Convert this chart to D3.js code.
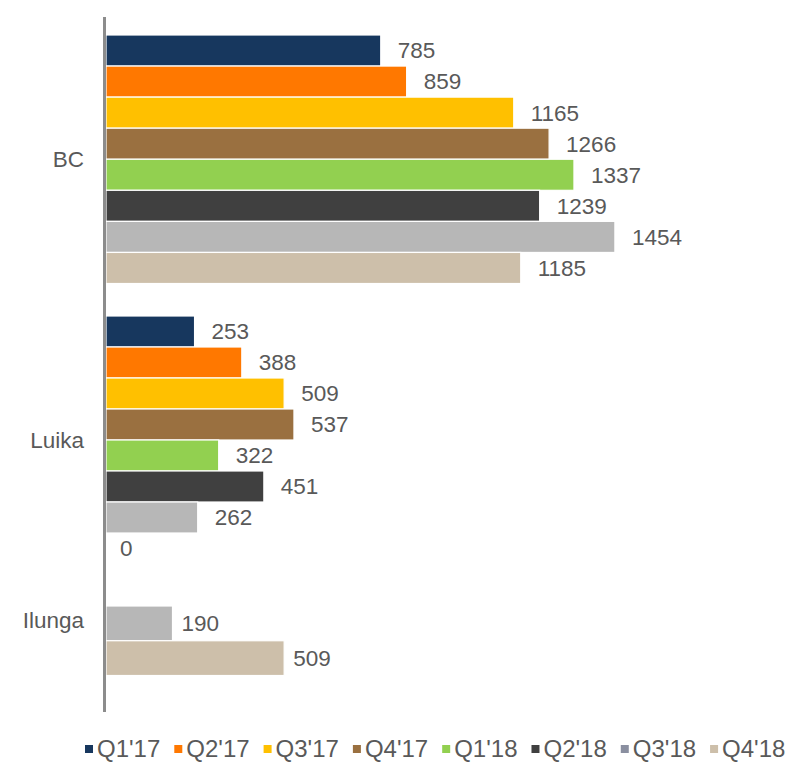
<!DOCTYPE html>
<html>
<head>
<meta charset="utf-8">
<script src="https://cdn.jsdelivr.net/npm/d3@7"></script>
<style>
  html, body { margin: 0; padding: 0; background: #fff; }
  svg { display: block; font-family: "Liberation Sans", Arial, sans-serif; }
</style>
</head>
<body>
<svg id="chart" width="787" height="762"></svg>
<script>
// ---- data ----
const categories = ["BC", "Luika", "Ilunga"];
const seriesNames = ["Q1'17", "Q2'17", "Q3'17", "Q4'17", "Q1'18", "Q2'18", "Q3'18", "Q4'18"];
const bcValues     = [785, 859, 1165, 1266, 1337, 1239, 1454, 1185];
const luikaValues  = [253, 388, 509, 537, 322, 451, 262, 0];
const ilungaValues = [null, null, null, null, null, null, 190, 509];
const barColors    = ["#17375E", "#FF7800", "#FFC000", "#9A7040", "#92D050", "#404040", "#B7B7B7", "#CDBFAA"];
const legendColors = ["#17375E", "#FF7800", "#FFC000", "#9A7040", "#92D050", "#404040", "#8A8FA0", "#CDBFAA"];

// ---- layout (not data) ----
const groupRanges = { "BC": [35, 283.5], "Luika": [316, 564], "Ilunga": [606, 675.5] };
const labelCenters = { "BC": 159, "Luika": 440, "Ilunga": 620 };
const axisX = 104.5, axisTop = 17, axisBottom = 712;
const fontSize = 22.5;
const legendFontSize = 24;

const valuesByCat = { "BC": bcValues, "Luika": luikaValues, "Ilunga": ilungaValues };

const svg = d3.select("#chart");
const x = d3.scaleLinear().domain([0, 1600]).range([106, 666]);
const textColor = "#595959";

categories.forEach(cat => {
  const vals = valuesByCat[cat];
  const present = seriesNames.filter((s, i) => vals[i] !== null);
  const y = d3.scaleBand().domain(present).range(groupRanges[cat]).paddingInner(0).paddingOuter(0);
  const rows = present.map(s => {
    const i = seriesNames.indexOf(s);
    return { s, v: vals[i], color: barColors[i] };
  });
  const g = svg.append("g");
  g.selectAll("rect").data(rows).join("rect")
    .attr("x", x(0))
    .attr("y", d => y(d.s))
    .attr("width", d => Math.max(0, x(d.v) - x(0)))
    .attr("height", y.bandwidth())
    .attr("fill", d => d.color)
    .attr("stroke", "#fff")
    .attr("stroke-width", d => d.v > 0 ? 1.2 : 0);
  const gap = cat === "Ilunga" ? 9 : 17;
  g.selectAll("text").data(rows).join("text")
    .attr("x", d => x(d.v) + (d.v > 0 ? gap : 14))
    .attr("y", d => y(d.s) + y.bandwidth() / 2)
    .attr("dy", "0.35em")
    .attr("fill", textColor)
    .attr("font-size", fontSize)
    .text(d => d.v);

  svg.append("text")
    .attr("x", 84)
    .attr("y", labelCenters[cat])
    .attr("dy", "0.35em")
    .attr("text-anchor", "end")
    .attr("fill", textColor)
    .attr("font-size", fontSize)
    .text(cat);
});

// axis line
svg.append("line")
  .attr("x1", axisX).attr("x2", axisX)
  .attr("y1", axisTop).attr("y2", axisBottom)
  .attr("stroke", "#8C8C8C").attr("stroke-width", 3);

// legend
const legend = svg.append("g");
let lx = 85;
const ly = 749;
seriesNames.forEach((s, i) => {
  legend.append("rect")
    .attr("x", lx).attr("y", ly - 4)
    .attr("width", 8).attr("height", 8)
    .attr("fill", legendColors[i]);
  const t = legend.append("text")
    .attr("x", lx + 12).attr("y", ly)
    .attr("dy", "0.35em")
    .attr("fill", textColor)
    .attr("font-size", legendFontSize)
    .text(s);
  const w = t.node().getComputedTextLength();
  lx += 12 + w + 14;
});
</script>
</body>
</html>
